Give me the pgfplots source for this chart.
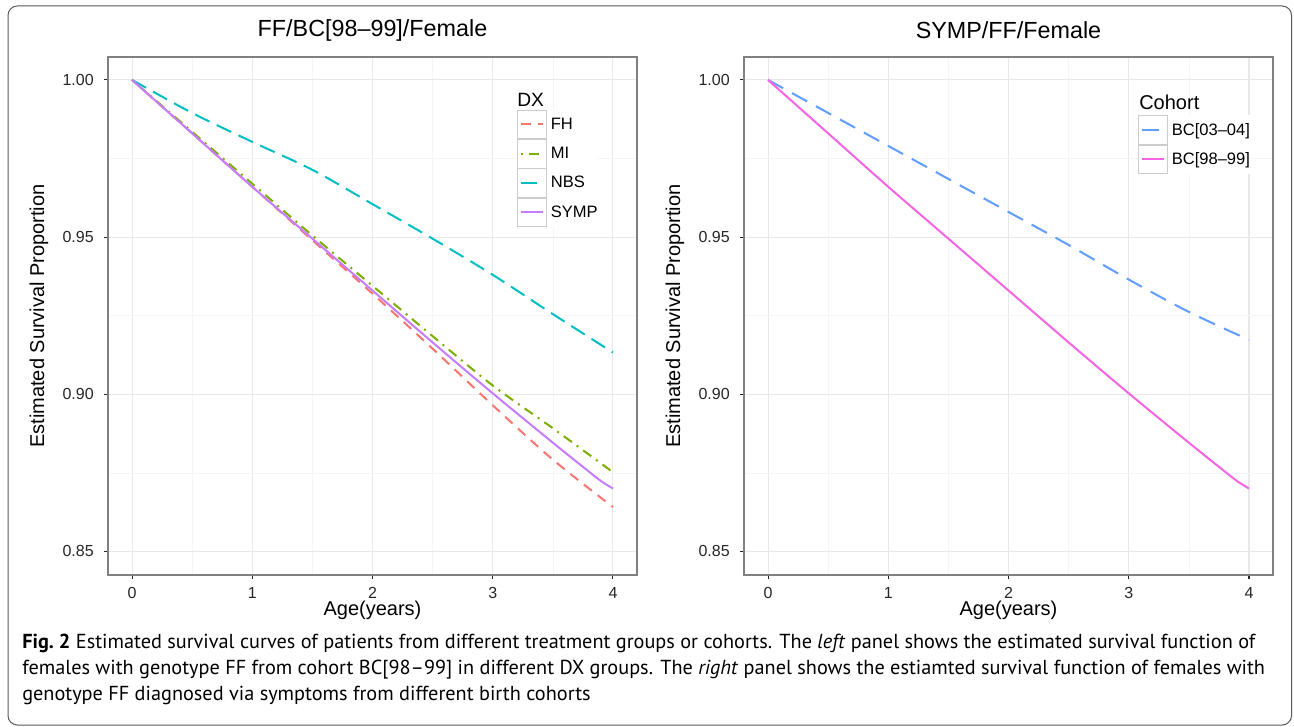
\documentclass[border=0pt]{standalone}
\usepackage{fontspec}
\setmainfont{Liberation Sans}
\newfontfamily\capfont{PT Sans}
\usepackage{pgfplots}
\pgfplotsset{compat=1.18}

\definecolor{cFH}{HTML}{F8766D}
\definecolor{cMI}{HTML}{7CAE00}
\definecolor{cNBS}{HTML}{00BFC4}
\definecolor{cSYMP}{HTML}{C77CFF}
\definecolor{cOld}{HTML}{619CFF}
\definecolor{cNew}{HTML}{F564E3}

% 1 px of the reference = 0.75pt
\pgfplotsset{
  survstyle/.style={
    width=396.75pt, height=388.5pt, scale only axis,
    xmin=-0.2, xmax=4.2, ymin=0.8425, ymax=1.0073,
    xtick={0,1,2,3,4}, xticklabels={0,1,2,3,4},
    ytick={0.85,0.90,0.95,1.00}, yticklabels={0.85,0.90,0.95,1.00},
    minor xtick={0.5,1.5,2.5,3.5}, minor ytick={0.875,0.925,0.975},
    grid=both,
    major grid style={draw=black!9, line width=0.8pt},
    minor grid style={draw=black!4, line width=0.5pt},
    axis line style={draw=black!50, line width=0.8pt},
    tick align=outside, tick pos=left,
    major tick length=3pt, minor tick length=0pt,
    major tick style={black!85, line width=0.8pt},
    ticklabel style={font=\fontsize{12}{14}\selectfont, text=black!85},
    yticklabel style={inner sep=0pt, anchor=east, xshift=-7.5pt},
    xticklabel style={inner sep=0pt, anchor=north, yshift=-6pt},
    xlabel style={at={(axis description cs:0.5,-0.0676)}, anchor=center,
      font=\fontsize{15}{17}\selectfont},
    ylabel style={at={(axis description cs:-0.1304,0.5)}, anchor=center,
      font=\fontsize{15}{17}\selectfont},
    title style={at={(axis description cs:0.5,1.0367)}, anchor=center,
      font=\fontsize{17.5}{20}\selectfont},
    xlabel={Age(years)}, ylabel={Estimated Survival Proportion},
    legend cell align=left,
    legend style={draw=none, fill=white, inner sep=0pt, outer sep=0pt,
      row sep=0pt, column sep=3pt, anchor=south west,
      nodes={inner sep=0pt, font=\fontsize{12.4}{14}\selectfont}},
    legend image code/.code={
      \draw[draw=black!20, fill=white, solid, line width=0.6pt]
        (0pt,-10.7pt) rectangle (21.75pt,10.7pt);
      \draw[#1, line width=1.3pt] (2.5pt,0pt) -- (19.25pt,0pt);
    },
  },
  curve/.style={line width=1.5pt, smooth, tension=0.5},
}

\begin{document}
\begin{tikzpicture}
\path[use as bounding box] (0,0) rectangle (970.5pt,-545.25pt);
\begin{scope}[x=0.75pt,y=-0.75pt]
\draw[black!65, line width=0.75pt, rounded corners=7pt] (8,6) rectangle (1291.5,725);
\begin{scope}[font=\capfont\fontsize{15.2}{17}\selectfont]
\node[anchor=base west, inner sep=0pt] at (22,648) {\textbf{Fig.~2} Estimated survival curves of patients from different treatment groups or cohorts. The \textit{left} panel shows the estimated survival function of};
\node[anchor=base west, inner sep=0pt] at (22,674) {females with genotype FF from cohort BC[98–99] in different DX groups. The \textit{right} panel shows the estiamted survival function of females with};
\node[anchor=base west, inner sep=0pt] at (22,700) {genotype FF diagnosed via symptoms from different birth cohorts};
\end{scope}
\end{scope}

% left panel
\begin{axis}[survstyle, at={(81pt,-42.75pt)}, anchor=north west,
  title={FF/BC[98–99]/Female},
  legend style={at={(axis description cs:0.7732,0.6718)}}]
\addplot[curve, color=cFH, dash pattern=on 7.5pt off 5.5pt] coordinates {
  (0,1.0) (0.5,0.983) (1,0.966) (1.5,0.949) (2,0.932) (2.5,0.9145)
  (3,0.8965) (3.5,0.8792) (4,0.8641)};
\addlegendentry{FH}
\addplot[curve, color=cMI, dash pattern=on 1.5pt off 4.5pt on 7.5pt off 4.5pt] coordinates {
  (0,1.0) (0.5,0.9835) (1,0.967) (1.5,0.9505) (2,0.9345) (2.5,0.9185)
  (3,0.9028) (3.5,0.8892) (4,0.8752)};
\addlegendentry{MI}
\addplot[curve, color=cNBS, dash pattern=on 12pt off 6pt] coordinates {
  (0,1.0) (0.5,0.9895) (1,0.9803) (1.5,0.9714) (2,0.9605) (2.5,0.9495)
  (3,0.938) (3.5,0.9255) (4,0.9133)};
\addlegendentry{NBS}
\addplot[curve, color=cSYMP] coordinates {
  (0,1.0) (0.5,0.983) (1,0.966) (1.5,0.9495) (2,0.933) (2.5,0.9165)
  (3,0.9003) (3.5,0.8846) (3.8,0.8754) (3.9,0.8724) (4,0.8700)};
\addlegendentry{SYMP}
\node[anchor=west, inner sep=0pt, font=\fontsize{14.4}{16}\selectfont]
  at (axis description cs:0.7732,0.917) {DX};
\end{axis}

% right panel
\begin{axis}[survstyle, at={(558pt,-42.75pt)}, anchor=north west,
  title={SYMP/FF/Female},
  legend style={at={(axis description cs:0.7448,0.7741)}}]
\addplot[curve, color=cOld, dash pattern=on 13pt off 7.5pt] coordinates {
  (0,1.0) (0.5,0.9895) (1,0.979) (1.5,0.9685) (2,0.958) (2.5,0.9475)
  (3,0.9365) (3.5,0.9262) (4,0.9173)};
\addlegendentry{BC[03–04]}
\addplot[curve, color=cNew] coordinates {
  (0,1.0) (0.5,0.983) (1,0.966) (1.5,0.9495) (2,0.933) (2.5,0.9165)
  (3,0.9003) (3.5,0.8846) (3.8,0.8754) (3.9,0.8724) (4,0.8700)};
\addlegendentry{BC[98–99]}
\node[anchor=west, inner sep=0pt, font=\fontsize{15}{17}\selectfont]
  at (axis description cs:0.7467,0.913) {Cohort};
\end{axis}
\end{tikzpicture}
\end{document}
